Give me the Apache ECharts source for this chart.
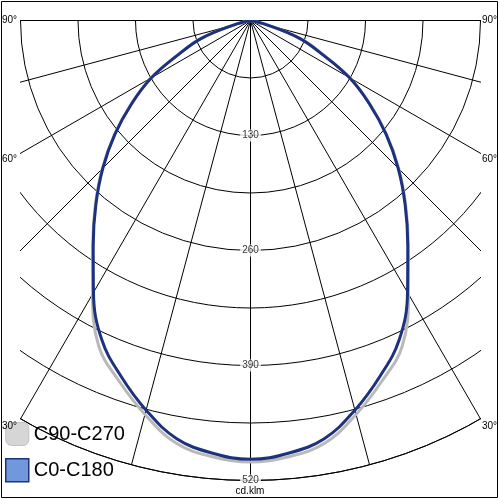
<!DOCTYPE html>
<html>
<head>
<meta charset="utf-8">
<script src="https://cdn.jsdelivr.net/npm/echarts@6/dist/echarts.min.js"></script>
<style>html,body{margin:0;padding:0;background:#fff;}#c{width:500px;height:500px;}</style>
</head>
<body>
<div id="c"></div>
<script>
// Angles (degrees from nadir) and luminous intensities (cd/klm)
var angles   = [0, 5, 10, 15, 20, 25, 30, 35, 40, 45, 50, 55, 60, 65, 70, 75, 80, 85, 90];
var c0c180   = [496, 491, 480, 456, 428, 398, 355, 310, 272, 236, 200, 164, 129, 88, 59, 20, 0, 0, 0];
var c90c270  = [499, 495, 485, 461, 434, 406, 357, 311, 273, 237, 201, 165, 130, 89, 60, 20, 0, 0, 0];
var seriesNames = ['C90-C270', 'C0-C180'];
var radiusLabels = [130, 260, 390, 520];
var angleLabels = ['90°', '60°', '30°'];
var unitLabel = 'cd.klm';

function curve(vals) {
  var d = [];
  var last = null;
  function add(p) {
    if (last && last[0] === 0 && p[0] === 0) return; // skip repeated centre points
    d.push(p); last = p;
  }
  for (var i = angles.length - 1; i >= 0; i--) add([vals[i], -angles[i]]);
  for (var j = 1; j < angles.length; j++) add([vals[j], angles[j]]);
  return d;
}

var chart = echarts.init(document.getElementById('c'), null, {renderer: 'canvas'});
var font = 'Liberation Sans, Arial, sans-serif';
var angleLabelY = [20.5, 159, 426];
var graphics = [
  {type: 'rect', z: 50, silent: true, shape: {x: 0, y: 0, width: 500, height: 20}, style: {fill: '#fff'}},
  {type: 'rect', z: 50, silent: true, shape: {x: 0, y: 0, width: 20, height: 500}, style: {fill: '#fff'}},
  {type: 'rect', z: 50, silent: true, shape: {x: 481, y: 0, width: 19, height: 500}, style: {fill: '#fff'}},
  {type: 'rect', z: 300, silent: true, shape: {x: 1.5, y: 1.5, width: 496, height: 496}, style: {fill: 'none', stroke: '#000', lineWidth: 1}},
  {type: 'text', z: 300, left: 'center', top: 486, style: {text: unitLabel, font: '10px ' + font, fill: '#000'}}
];
angleLabels.forEach(function (t, k) {
  graphics.push({type: 'text', z: 300, x: 2, y: angleLabelY[k], style: {text: t, font: '10px ' + font, fill: '#000', textVerticalAlign: 'middle', verticalAlign: 'middle'}});
  graphics.push({type: 'text', z: 300, x: 482, y: angleLabelY[k], style: {text: t, font: '10px ' + font, fill: '#000', textVerticalAlign: 'middle', verticalAlign: 'middle'}});
});

chart.setOption({
  animation: false,
  backgroundColor: '#fff',
  polar: {center: [250.5, 20.5], radius: 460},
  angleAxis: {
    type: 'value', min: -180, max: 180, interval: 15, startAngle: 90, clockwise: true,
    axisLine: {show: true, lineStyle: {color: '#000', width: 1}},
    axisTick: {show: false}, axisLabel: {show: false},
    splitLine: {show: true, lineStyle: {color: '#000', width: 1}}
  },
  radiusAxis: {
    type: 'value', min: 0, max: 520, interval: 65,
    axisLine: {show: false}, axisTick: {show: false}, axisLabel: {show: false},
    splitLine: {show: true, lineStyle: {color: '#000', width: 1}}
  },
  legend: {
    z: 200, orient: 'vertical', left: 5, top: 422, padding: 0, itemWidth: 23, itemHeight: 23, itemGap: 12,
    textStyle: {fontSize: 20, fontFamily: font, color: '#000'},
    data: [
      {name: seriesNames[0], icon: 'roundRect', itemStyle: {color: '#d6d6d6', borderColor: '#c2c2c2', borderWidth: 1}},
      {name: seriesNames[1], icon: 'rect', itemStyle: {color: '#7098da', borderColor: '#1d327f', borderWidth: 1.5}}
    ]
  },
  series: [
    {name: seriesNames[0], type: 'line', coordinateSystem: 'polar', symbol: 'none', smooth: 0.4,
     data: curve(c90c270), lineStyle: {color: '#b9b9b9', width: 3}, itemStyle: {color: '#d6d6d6'}, z: 3},
    {name: seriesNames[1], type: 'line', coordinateSystem: 'polar', symbol: 'none', smooth: 0.4,
     data: curve(c0c180), lineStyle: {color: '#1d327f', width: 3}, itemStyle: {color: '#7098da'}, z: 4},
    {name: 'labels', type: 'scatter', coordinateSystem: 'polar', symbolSize: 1, z: 10,
     itemStyle: {color: 'rgba(0,0,0,0)'},
     data: radiusLabels.map(function (v) { return [v, 0]; }),
     label: {show: true, position: 'inside', formatter: function (p) { return String(p.value[0]); },
             color: '#000', fontSize: 10, fontFamily: font, backgroundColor: '#fff', padding: [1, 2]}}
  ],
  graphic: graphics
});
</script>
</body>
</html>
